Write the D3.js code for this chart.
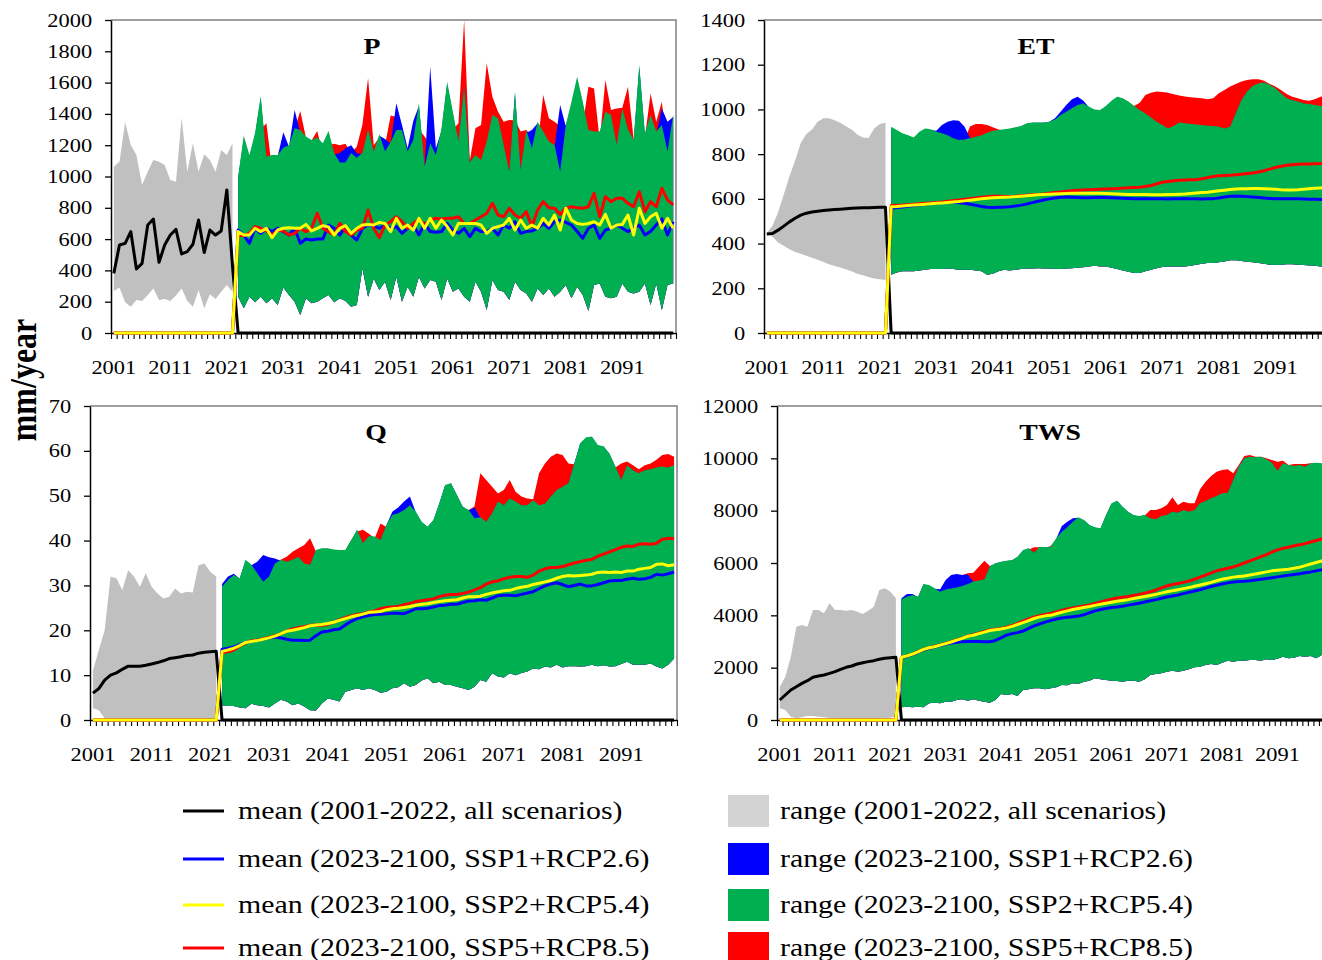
<!DOCTYPE html>
<html>
<head>
<meta charset="utf-8">
<script src="https://cdn.jsdelivr.net/npm/d3@7"></script>
<style>
  body { margin: 0; background: #ffffff; }
  svg { display: block; }
  text { font-family: "Liberation Serif", "Times New Roman", serif; fill: #000; }
</style>
</head>
<body>
<svg id="chart" width="1322" height="960"></svg>
<script>
// ---- Years -------------------------------------------------------------
const histYears = d3.range(2001, 2023);     // 2001-2022
const futureYears = d3.range(2023, 2101);   // 2023-2100
const labelYears = [2001, 2011, 2021, 2031, 2041, 2051, 2061, 2071, 2081, 2091];

// ---- P (precipitation) -------------------------------------------------
const pTicks = [0, 200, 400, 600, 800, 1000, 1200, 1400, 1600, 1800, 2000];
const pHistLow  = [268, 290, 196, 168, 211, 204, 243, 285, 211, 217, 204, 239, 285, 204, 168, 275, 158, 247, 217, 264, 307, 264];
const pHistHigh = [1063, 1095, 1346, 1201, 1137, 946, 1031, 1105, 1095, 1073, 978, 967, 1376, 1031, 1212, 1031, 1142, 1105, 1031, 1169, 1137, 1212];
const pHistMean = [381, 562, 573, 648, 409, 445, 690, 728, 452, 562, 626, 662, 505, 520, 567, 722, 514, 658, 626, 652, 914, 430];
const pSsp2Low = [232, 158, 232, 196, 232, 190, 222,
  179, 290, 243, 200, 115, 222, 190, 200, 222, 243,
  196, 222, 204, 168, 179, 413, 232, 349, 275, 328,
  211, 360, 200, 296, 232, 360, 285, 339, 328, 211,
  349, 264, 285, 232, 200, 328, 264, 147, 339, 275,
  264, 211, 328, 275, 253, 200, 285, 243, 285, 232,
  264, 307, 222, 296, 243, 141, 307, 317, 232, 222,
  232, 317, 264, 253, 264, 317, 179, 317, 147, 307,
  317];
const pSsp2High = [1000, 1260, 1137, 1280, 1514, 1127, 1137,
  1137, 1184, 1200, 1308, 1297, 1255, 1233, 1250, 1212, 1290,
  1150, 1090, 1090, 1150, 1120, 1150, 1300, 1160, 1270, 1160,
  1220, 1297, 1297, 1159, 1233, 1468, 1063, 1212, 1137, 1308,
  1606, 1414, 1223, 1574, 1090, 1137, 1105, 1223, 1393, 1372,
  1201, 1031, 1542, 1042, 1297, 1180, 1350, 1287, 1223, 1201,
  1031, 1329, 1478, 1638, 1478, 1297, 1287, 1287, 1414, 1393,
  1201, 1435, 1300, 1233, 1713, 1276, 1393, 1287, 1329, 1159,
  1393];
const pSsp1High = [990, 1240, 1120, 1260, 1500, 1110, 1120,
  1130, 1282, 1190, 1425, 1280, 1240, 1220, 1240, 1200, 1280,
  1140, 1150, 1180, 1200, 1150, 1140, 1290, 1150, 1260, 1240,
  1210, 1468, 1329, 1180, 1355, 1450, 1050, 1702, 1180, 1290,
  1590, 1400, 1210, 1560, 1080, 1120, 1090, 1210, 1380, 1360,
  1190, 1020, 1530, 1030, 1280, 1297, 1340, 1270, 1210, 1190,
  1457, 1320, 1460, 1620, 1460, 1280, 1270, 1270, 1400, 1380,
  1190, 1420, 1290, 1220, 1700, 1260, 1380, 1270, 1435, 1350,
  1380];
const pSsp5High = [980, 1200, 1100, 1200, 1300, 1340, 1050,
  1130, 1230, 1160, 1300, 1418, 1250, 1230, 1290, 1150, 1200,
  1210, 1200, 1210, 1150, 1190, 1330, 1630, 1200, 1250, 1200,
  1390, 1380, 1250, 1180, 1200, 1300, 1255, 1200, 1150, 1250,
  1400, 1300, 1340, 2000, 1100, 1308, 1329, 1723, 1510, 1414,
  1350, 1361, 1360, 1287, 1297, 1260, 1200, 1521, 1372, 1350,
  1320, 1329, 1300, 1300, 1330, 1574, 1563, 1230, 1617, 1425,
  1435, 1440, 1574, 1240, 1200, 1250, 1531, 1350, 1478, 1137,
  1393];
const pSsp1Mean = [658, 626, 573, 669, 637, 669, 648,
  669, 648, 626, 669, 573, 601, 594, 601, 601, 690,
  669, 626, 680, 626, 594, 669, 690, 686, 669, 690,
  669, 680, 637, 669, 690, 626, 700, 648, 644, 648,
  700, 658, 637, 669, 616, 669, 648, 648, 669, 626,
  690, 669, 711, 637, 648, 652, 669, 700, 669, 711,
  722, 707, 690, 648, 605, 669, 690, 605, 658, 669,
  690, 669, 648, 669, 690, 626, 648, 690, 730, 626,
  711];
const pSsp2Mean = [648, 626, 626, 669, 648, 669, 609,
  658, 669, 673, 669, 669, 694, 652, 669, 686, 677,
  626, 669, 686, 637, 669, 690, 694, 690, 707, 700,
  648, 733, 669, 690, 658, 733, 669, 733, 669, 722,
  680, 626, 700, 700, 700, 700, 690, 637, 669, 680,
  690, 733, 658, 722, 669, 690, 669, 733, 690, 754,
  658, 797, 722, 700, 694, 700, 711, 690, 758, 669,
  690, 694, 754, 626, 797, 700, 743, 765, 669, 733,
  669];
const pSsp5Mean = [626, 622, 637, 680, 669, 652, 626,
  658, 652, 626, 637, 669, 648, 669, 765, 669, 648,
  626, 700, 648, 626, 658, 669, 786, 669, 609, 690,
  711, 743, 711, 669, 700, 728, 690, 722, 733, 728,
  733, 733, 743, 700, 700, 722, 743, 765, 829, 754,
  743, 797, 754, 733, 775, 680, 786, 839, 801, 797,
  758, 797, 807, 801, 797, 807, 892, 743, 871, 839,
  861, 861, 829, 807, 903, 775, 839, 807, 924, 850,
  818];

// ---- ET (evapotranspiration) -------------------------------------------
const etTicks = [0, 200, 400, 600, 800, 1000, 1200, 1400];
const etHistLow  = [447, 430, 405, 390, 375, 362, 355, 345, 337, 328, 318, 308, 300, 293, 285, 276, 265, 258, 250, 244, 240, 237];
const etHistHigh = [447, 480, 540, 620, 700, 770, 850, 890, 910, 945, 960, 960, 952, 940, 925, 910, 888, 875, 872, 915, 935, 940];
const etHistMean = [443, 445, 460, 478, 497, 513, 527, 536, 541, 545, 548, 550, 552, 554, 556, 558, 559, 560, 560, 561, 562, 562];
const etSsp2Low = [261, 271, 276, 276, 276, 280, 283,
  286, 286, 286, 289, 286, 283, 283, 283, 280, 276,
  261, 265, 276, 283, 280, 283, 286, 289, 289, 290,
  289, 289, 287, 286, 289, 290, 292, 294, 298, 301,
  298, 298, 292, 286, 280, 274, 268, 268, 276, 283,
  290, 295, 298, 298, 298, 298, 301, 305, 310, 313,
  313, 316, 320, 325, 325, 322, 319, 316, 313, 310,
  305, 304, 305, 308, 308, 305, 304, 302, 301, 298,
  298];
const etSsp2High = [923, 908, 893, 885, 875, 900, 915,
  911, 900, 893, 885, 871, 863, 866, 871, 878, 885,
  896, 905, 908, 911, 915, 920, 926, 938, 942, 941,
  942, 945, 955, 975, 990, 1005, 1020, 1027, 1012, 1000,
  997, 1015, 1039, 1057, 1050, 1035, 1015, 997, 982, 964,
  945, 930, 915, 926, 941, 938, 935, 933, 930, 927,
  926, 923, 915, 923, 982, 1042, 1080, 1105, 1117, 1120,
  1110, 1095, 1072, 1050, 1042, 1035, 1027, 1024, 1020, 1015,
  1012];
const etSsp1High = [915, 905, 890, 882, 872, 895, 910,
  908, 905, 930, 945, 952, 949, 923, 870, 875, 880,
  890, 900, 905, 908, 912, 918, 924, 935, 940, 940,
  940, 945, 960, 990, 1020, 1045, 1057, 1040, 1010, 998,
  995, 1012, 1035, 1055, 1048, 1032, 1012, 995, 980, 960,
  942, 928, 912, 924, 938, 935, 932, 930, 928, 925,
  924, 920, 912, 920, 980, 1040, 1078, 1100, 1114, 1118,
  1108, 1092, 1070, 1048, 1040, 1032, 1025, 1022, 1018, 1012,
  1010];
const etSsp5High = [900, 890, 880, 875, 870, 880, 900,
  900, 890, 880, 870, 865, 860, 865, 925, 935, 935,
  930, 920, 910, 905, 910, 915, 920, 930, 935, 935,
  940, 940, 950, 965, 980, 995, 1005, 1015, 1005, 995,
  995, 1010, 1035, 1050, 1045, 1030, 1015, 1030, 1065, 1075,
  1080, 1078, 1075, 1068, 1062, 1058, 1055, 1052, 1050, 1045,
  1050, 1072, 1087, 1102, 1114, 1125, 1132, 1135, 1135, 1128,
  1114, 1102, 1087, 1069, 1057, 1050, 1042, 1039, 1045, 1057,
  1060];
const etSsp1Mean = [558, 561, 564, 567, 570, 573, 576,
  579, 582, 584, 585, 585, 583, 580, 576, 571, 566,
  562, 561, 562, 563, 565, 568, 572, 577, 583, 589,
  595, 600, 604, 607, 608, 607, 606, 605, 605, 606,
  606, 606, 605, 604, 603, 602, 601, 601, 600, 600,
  600, 600, 599, 600, 601, 602, 601, 600, 599, 600,
  601, 604, 608, 612, 613, 612, 610, 608, 606, 604,
  602, 601, 601, 600, 600, 600, 599, 598, 598, 597,
  598];
const etSsp2Mean = [565, 566, 568, 570, 572, 574, 576,
  578, 580, 582, 584, 586, 588, 591, 594, 597, 600,
  603, 605, 606, 607, 608, 610, 612, 614, 616, 618,
  620, 621, 622, 623, 624, 625, 625, 625, 625, 625,
  625, 624, 623, 622, 621, 620, 620, 619, 619, 618,
  618, 618, 619, 620, 621, 622, 624, 626, 628, 630,
  633, 636, 639, 642, 644, 645, 645, 646, 646, 645,
  644, 643, 641, 640, 640, 641, 643, 645, 647, 649,
  651];
const etSsp5Mean = [570, 571, 572, 574, 576, 578, 580,
  582, 584, 586, 589, 592, 595, 598, 601, 604, 607,
  610, 612, 612, 611, 611, 612, 614, 616, 618, 620,
  622, 625, 628, 631, 634, 636, 638, 640, 641, 642,
  643, 644, 645, 646, 648, 650, 651, 652, 655, 660,
  667, 674, 678, 681, 683, 684, 685, 686, 690, 695,
  700, 703, 705, 706, 708, 710, 713, 716, 720, 726,
  733, 740, 746, 750, 753, 755, 756, 756, 757, 758,
  760];

// ---- Q (runoff) --------------------------------------------------------
const qTicks = [0, 10, 20, 30, 40, 50, 60, 70];
const qHistLow  = [2.6, 2.2, 0.4, 0, 0, 0.2, 0, 0, 0, 0, 0, 0, 0, 0, 0, 0, 0, 0, 0, 0, 0, 0];
const qHistHigh = [11, 15.6, 20, 32, 31.6, 29, 33.4, 32, 29.7, 32.7, 29.7, 28.2, 27.1, 27.5, 29.3, 28.2, 28.6, 28.4, 34.5, 34.9, 33, 32];
const qHistMean = [6, 7, 8.9, 10, 10.5, 11.3, 12, 12, 12, 12.2, 12.5, 12.8, 13.2, 13.7, 13.9, 14.1, 14.4, 14.5, 14.9, 15.1, 15.2, 15.3];
const qSsp2Low = [3.3, 3.1, 3.1, 2.8, 2.6, 3.6, 3.3,
  3.1, 2.8, 3.7, 4.5, 4.1, 3.3, 3.7, 3, 2.2, 2.1,
  3.7, 4.8, 4.5, 4.1, 6.3, 6.7, 7.1, 6.7, 7.1, 6.7,
  6.1, 6.3, 7.1, 7.3, 8.2, 7.4, 7.8, 8.8, 9.3, 8.2,
  8.5, 7.8, 7.8, 7.4, 7.1, 6.7, 7.4, 8.9, 8.5, 10.4,
  9.7, 9.5, 10.4, 10, 10.5, 10.8, 11.5, 11.3, 11.9, 11.7,
  12.3, 11.7, 12, 12, 11.9, 12, 12.3, 12, 12.2, 11.9,
  12, 12.5, 13, 12.3, 12.3, 12.3, 12.6, 11.9, 11.5, 12.3,
  13.7];
const qSsp2High = [29.7, 31.2, 32.3, 31.6, 35.7, 34.6, 32.7,
  30.8, 32, 34.9, 35.7, 35.3, 35.7, 36.4, 34.9, 34.6, 37.9,
  38.3, 38.3, 38, 37.9, 37.9, 40.1, 42.4, 39.4, 41, 40.9,
  40.1, 43.5, 45.7, 46.1, 46.8, 47.9, 46.4, 44.2, 43.1, 44.6,
  48.3, 52.4, 52.8, 50.2, 47.6, 46.8, 45, 45.2, 44.2, 46.1,
  48.7, 47.9, 49.4, 48.7, 47.9, 47.9, 49, 47.9, 48.2, 49.8,
  51.3, 52, 52.8, 57.2, 61.7, 63, 63.2, 61.3, 61, 59.4,
  56.5, 53.5, 56.8, 55.7, 55, 55.7, 55.9, 56.3, 56.5, 56.3,
  56.8];
const qSsp1High = [30.3, 32, 32.6, 31.5, 35.5, 34.5, 35.3,
  36.8, 36.3, 36, 35.5, 35.2, 35.6, 36.2, 34.8, 34.5, 37.8,
  38.2, 38.2, 37.9, 37.8, 37.8, 40, 42.3, 39.3, 40.9, 40.8,
  40, 43.4, 46.4, 47.4, 48.7, 49.8, 46.3, 44.1, 43, 44.5,
  48.2, 52.3, 52.7, 50.1, 47.5, 46.7, 47.4, 45.1, 44.1, 46,
  48.6, 47.8, 49.3, 48.6, 47.8, 47.8, 48.9, 47.8, 48.1, 49.7,
  51.2, 51.9, 52.7, 57.1, 61.6, 62.9, 63.1, 61.2, 60.9, 59.3,
  56.4, 53.4, 56.7, 55.6, 54.9, 55.6, 55.8, 56.2, 56.4, 56.2,
  56.7];
const qSsp5High = [29, 30.5, 31.5, 31, 35, 34, 32,
  30.5, 33.4, 35.3, 35.7, 36.4, 37.5, 38.3, 39, 40.5, 37.5,
  38, 38, 37.8, 37.5, 37.5, 40, 42, 42.4, 41.5, 40.5,
  43.8, 43, 45, 45.5, 46, 47, 46, 44, 43, 44.2,
  48, 52, 52.5, 50, 47.2, 46.8, 47.6, 55, 53.5, 52,
  50.5, 51.3, 53.5, 50.9, 49.8, 49.4, 49.2, 55, 57.2, 58.7,
  59.4, 59.1, 57.2, 57, 61, 62.5, 62.8, 61, 60.5, 59,
  56.3, 57.2, 57.6, 56.8, 55.9, 56.8, 57.2, 58, 59.1, 59.3,
  58.7];
const qSsp1Mean = [15.8, 16, 16.3, 16.8, 17.3, 17.5, 17.8,
  18, 18.3, 18.5, 18.3, 18, 17.8, 17.8, 17.7, 17.8, 18.8,
  19.6, 19.8, 20.1, 20.3, 21.2, 22, 22.6, 23, 23.3, 23.5,
  23.6, 23.7, 23.8, 23.8, 23.7, 24.2, 24.8, 24.8, 24.9, 25.2,
  25.5, 25.6, 25.8, 25.8, 26.2, 26.5, 26.6, 26.8, 26.7, 27.2,
  27.7, 27.8, 27.8, 27.7, 28, 28.3, 28.6, 29.3, 29.9, 30.3,
  30.6, 30.2, 29.7, 30, 30.3, 29.9, 29.9, 30.2, 30.6, 31,
  31.1, 31.1, 31.4, 31.6, 31.4, 31.5, 31.8, 32.5, 32.3, 32.6,
  33];
const qSsp2Mean = [15.3, 15.6, 16, 16.6, 17.3, 17.5, 17.7,
  18, 18.3, 18.7, 19.2, 19.8, 20, 20.3, 20.6, 21, 21.2,
  21.3, 21.5, 21.8, 22.2, 22.6, 23, 23.3, 23.6, 24, 24.1,
  24.2, 24.6, 24.8, 24.9, 25.1, 25.3, 25.6, 25.8, 25.9, 26.2,
  26.4, 26.6, 26.7, 26.8, 27.2, 27.5, 27.5, 27.6, 28, 28.3,
  28.6, 28.8, 28.9, 29.3, 29.6, 29.8, 30.2, 30.5, 30.8, 31.1,
  31.6, 32, 32.2, 32.1, 32.2, 32.3, 32.5, 32.9, 33, 32.9,
  33, 32.9, 33.2, 33.2, 33.6, 33.8, 34, 34.7, 34.8, 34.4,
  34.6];
const qSsp5Mean = [15, 15.2, 15.6, 16.5, 17.2, 17.6, 17.8,
  18.1, 18.4, 18.8, 19.2, 19.8, 20.3, 20.6, 20.8, 21.1, 21.2,
  21.1, 21.3, 21.8, 22.3, 22.8, 23.2, 23.5, 23.7, 24.1, 24.3,
  24.8, 25.1, 25.2, 25.3, 25.7, 26, 26.4, 26.6, 26.8, 27,
  27.5, 27.8, 28, 28, 28.2, 28.5, 29, 29.5, 30.3, 30.8,
  31, 31.5, 31.8, 32, 32, 31.8, 32.3, 33.2, 33.7, 34,
  34, 34.2, 34.6, 35, 35.3, 35.6, 35.8, 36.5, 37, 37.5,
  38, 38.5, 38.8, 38.7, 39.2, 39.3, 39.2, 39.4, 40.3, 40.5,
  40.4];

// ---- TWS (terrestrial water storage) -----------------------------------
const twsTicks = [0, 2000, 4000, 6000, 8000, 10000, 12000];
const twsHistLow  = [446, 382, 127, 64, 102, 153, 153, 127, 102, 76, 64, 51, 51, 51, 51, 51, 51, 51, 64, 76, 89, 127];
const twsHistHigh = [1274, 1656, 2420, 3567, 3631, 3567, 4204, 4204, 4077, 4459, 4204, 4204, 4179, 4204, 4140, 4051, 4179, 4332, 4969, 5032, 4905, 4650];
const twsHistMean = [764, 955, 1147, 1274, 1401, 1503, 1631, 1682, 1720, 1784, 1847, 1936, 2013, 2064, 2140, 2191, 2230, 2268, 2319, 2357, 2382, 2400];
const twsSsp2Low = [484, 510, 484, 510, 484, 637, 662,
  637, 700, 700, 764, 790, 739, 790, 739, 700, 662,
  764, 994, 955, 994, 917, 1147, 1172, 1210, 1210, 1172,
  1210, 1249, 1338, 1325, 1401, 1376, 1465, 1503, 1593, 1554,
  1529, 1503, 1490, 1465, 1503, 1503, 1465, 1554, 1720, 1758,
  1784, 1847, 1886, 1847, 1886, 1936, 2013, 2038, 2102, 2140,
  2102, 2191, 2268, 2230, 2268, 2268, 2293, 2293, 2268, 2319,
  2293, 2344, 2421, 2357, 2382, 2446, 2421, 2446, 2357, 2484,
  2484];
const twsSsp2High = [4610, 4712, 4776, 4712, 5196, 5158, 5031,
  4903, 4990, 5030, 5060, 5120, 5200, 5290, 5330, 5380, 5880,
  5986, 6050, 6088, 6114, 6241, 6496, 6560, 6394, 6623, 6598,
  6623, 6942, 7197, 7362, 7579, 7744, 7642, 7451, 7362, 7324,
  7834, 8279, 8381, 8152, 7961, 7834, 7795, 7834, 7706, 7668,
  7795, 7834, 7961, 7923, 8024, 7961, 8024, 8279, 8368, 8470,
  8560, 8662, 8687, 9171, 9681, 9999, 10063, 10037, 10063, 9961,
  9834, 9528, 9808, 9745, 9706, 9745, 9681, 9808, 9834, 9808,
  9783];
const twsSsp1High = [4650, 4814, 4814, 4700, 5180, 5140, 5020,
  5000, 5349, 5540, 5579, 5540, 5560, 5280, 5320, 5370, 5870,
  5980, 6040, 6080, 6100, 6230, 6480, 6550, 6380, 6610, 6590,
  6610, 6930, 7413, 7579, 7706, 7730, 7630, 7440, 7350, 7310,
  7820, 8260, 8370, 8140, 7950, 7820, 7780, 7820, 7690, 7650,
  7780, 7820, 7950, 7910, 8010, 7950, 8010, 8260, 8350, 8460,
  8550, 8650, 8670, 9160, 9670, 9990, 10050, 10020, 10050, 9950,
  9820, 9510, 9790, 9730, 9690, 9730, 9670, 9790, 9820, 9790,
  9770];
const twsSsp5High = [4550, 4650, 4700, 4650, 5150, 5100, 5000,
  4880, 4950, 5285, 5477, 5540, 5604, 5630, 5859, 6088, 5884,
  5950, 6000, 6050, 6080, 6200, 6450, 6520, 6598, 6600, 6580,
  6650, 6900, 7150, 7300, 7500, 7700, 7600, 7400, 7300, 7300,
  7800, 8250, 8350, 8100, 7900, 7800, 7780, 7820, 8024, 8024,
  8088, 8215, 8509, 8215, 8343, 8279, 8279, 8814, 9108, 9324,
  9490, 9553, 9579, 9426, 9745, 10088, 10127, 10063, 10063, 10000,
  9936, 9872, 9910, 9745, 9783, 9783, 9783, 9808, 9808, 9783,
  9783];
const twsSsp1Mean = [2380, 2440, 2510, 2590, 2680, 2740, 2790,
  2850, 2900, 2940, 2970, 2990, 3000, 3000, 3000, 2990, 2990,
  3040, 3140, 3240, 3300, 3340, 3400, 3500, 3600, 3670, 3740,
  3800, 3860, 3900, 3930, 3950, 3970, 4020, 4100, 4170, 4220,
  4260, 4300, 4320, 4350, 4390, 4420, 4460, 4510, 4560, 4600,
  4650, 4700, 4740, 4780, 4830, 4880, 4930, 4980, 5040, 5100,
  5150, 5200, 5240, 5270, 5290, 5300, 5320, 5350, 5380, 5410,
  5440, 5470, 5500, 5530, 5560, 5590, 5630, 5660, 5700, 5740,
  5790];
const twsSsp2Mean = [2400, 2450, 2520, 2600, 2700, 2760, 2800,
  2860, 2920, 2980, 3050, 3120, 3200, 3240, 3300, 3360, 3420,
  3450, 3480, 3520, 3580, 3650, 3720, 3800, 3880, 3940, 3980,
  4000, 4060, 4120, 4170, 4220, 4260, 4300, 4340, 4380, 4420,
  4460, 4500, 4540, 4570, 4600, 4640, 4680, 4720, 4760, 4800,
  4850, 4900, 4940, 4980, 5020, 5060, 5110, 5160, 5210, 5260,
  5320, 5380, 5420, 5460, 5480, 5500, 5540, 5580, 5620, 5660,
  5700, 5720, 5740, 5760, 5800, 5840, 5900, 5960, 6020, 6080,
  6130];
const twsSsp5Mean = [2400, 2450, 2520, 2610, 2700, 2760, 2810,
  2870, 2930, 2990, 3060, 3130, 3210, 3260, 3320, 3380, 3440,
  3470, 3500, 3550, 3610, 3690, 3780, 3860, 3930, 3990, 4030,
  4070, 4130, 4190, 4240, 4280, 4320, 4360, 4400, 4450, 4510,
  4570, 4620, 4660, 4690, 4720, 4760, 4800, 4850, 4900, 4960,
  5050, 5120, 5180, 5220, 5260, 5310, 5380, 5460, 5540, 5620,
  5700, 5750, 5800, 5850, 5920, 6000, 6080, 6160, 6240, 6320,
  6420, 6500, 6560, 6600, 6660, 6700, 6740, 6800, 6860, 6920,
  6990];

// ---- Legend -------------------------------------------------------------
const lineLegend = [
  "mean (2001-2022, all scenarios)",
  "mean (2023-2100, SSP1+RCP2.6)",
  "mean (2023-2100, SSP2+RCP5.4)",
  "mean (2023-2100, SSP5+RCP8.5)"
];
const rangeLegend = [
  "range (2001-2022, all scenarios)",
  "range (2023-2100, SSP1+RCP2.6)",
  "range (2023-2100, SSP2+RCP5.4)",
  "range (2023-2100, SSP5+RCP8.5)"
];

// ---- Styling ------------------------------------------------------------
const COL = {
  histFill: "#c0c0c0", histKey: "#d3d3d3",
  ssp1: "#0000ff", ssp2Fill: "#00b050", ssp2Line: "#ffff00", ssp5: "#ff0000",
  hist: "#000000", frame: "#808080"
};
const lineColors = [COL.hist, COL.ssp1, COL.ssp2Line, COL.ssp5];
const rangeColors = [COL.histKey, COL.ssp1, COL.ssp2Fill, COL.ssp5];
const SX = 1.18;          // horizontal text stretch
const TICK_FONT = 19;
const SERIF = "Liberation Serif, Times New Roman, serif";

const panels = [
  { title: "P", titleX: 372, ticks: pTicks, box: { l: 111, r: 676, t: 20, b: 333 },
    histLow: pHistLow, histHigh: pHistHigh, histMean: pHistMean,
    low: pSsp2Low, hi1: pSsp1High, hi2: pSsp2High, hi5: pSsp5High,
    m1: pSsp1Mean, m2: pSsp2Mean, m5: pSsp5Mean },
  { title: "ET", titleX: 1036, ticks: etTicks, box: { l: 764, r: 1329, t: 20, b: 333 },
    histLow: etHistLow, histHigh: etHistHigh, histMean: etHistMean,
    low: etSsp2Low, hi1: etSsp1High, hi2: etSsp2High, hi5: etSsp5High,
    m1: etSsp1Mean, m2: etSsp2Mean, m5: etSsp5Mean },
  { title: "Q", titleX: 376, ticks: qTicks, box: { l: 90, r: 677, t: 406, b: 720 },
    histLow: qHistLow, histHigh: qHistHigh, histMean: qHistMean,
    low: qSsp2Low, hi1: qSsp1High, hi2: qSsp2High, hi5: qSsp5High,
    m1: qSsp1Mean, m2: qSsp2Mean, m5: qSsp5Mean },
  { title: "TWS", titleX: 1050, ticks: twsTicks, box: { l: 777, r: 1330, t: 406, b: 720 },
    histLow: twsHistLow, histHigh: twsHistHigh, histMean: twsHistMean,
    low: twsSsp2Low, hi1: twsSsp1High, hi2: twsSsp2High, hi5: twsSsp5High,
    m1: twsSsp1Mean, m2: twsSsp2Mean, m5: twsSsp5Mean }
];

const svg = d3.select("#chart");

function stretchedText(parent, x, y, str, size, anchor, weight) {
  return parent.append("text")
    .attr("transform", `translate(${x},${y}) scale(${SX},1)`)
    .attr("text-anchor", anchor)
    .attr("font-family", SERIF)
    .attr("font-size", size)
    .attr("font-weight", weight || "normal")
    .text(str);
}

panels.forEach(p => {
  ["histLow", "histHigh", "histMean"].forEach(k => {
    if (p[k].length !== histYears.length) throw new Error(p.title + " " + k + " length " + p[k].length);
  });
  ["low", "hi1", "hi2", "hi5", "m1", "m2", "m5"].forEach(k => {
    if (p[k].length !== futureYears.length) throw new Error(p.title + " " + k + " length " + p[k].length);
  });

  const { l, r, t, b } = p.box;
  const x = d3.scaleLinear().domain([2000.5, 2100.5]).range([l, r]);
  const y = d3.scaleLinear().domain([0, d3.max(p.ticks)]).range([b, t]);
  const g = svg.append("g");

  // frame (top / right edges)
  g.append("path")
    .attr("d", `M${l},${t}H${r}V${b}`)
    .attr("fill", "none").attr("stroke", COL.frame).attr("stroke-width", 1.5);

  // y axis
  const yAxis = g.append("g").attr("transform", `translate(${l},0)`)
    .call(d3.axisLeft(y).tickValues(p.ticks).tickFormat(d3.format("d"))
      .tickSize(6).tickSizeOuter(0).tickPadding(10));
  yAxis.select(".domain").attr("stroke", "#000").attr("stroke-width", 1.5);
  yAxis.selectAll(".tick line").attr("stroke", "#000").attr("stroke-width", 1.3);
  yAxis.selectAll(".tick text")
    .attr("font-size", TICK_FONT)
    .attr("font-family", SERIF)
    .attr("fill", "#000")
    .attr("transform", `scale(${SX},1)`);

  // x axis: a tick at every year boundary, labels every ten years
  const xAxis = g.append("g").attr("transform", `translate(0,${b})`)
    .call(d3.axisBottom(x).tickValues(d3.range(2000.5, 2101, 1)).tickSize(6).tickSizeOuter(0).tickFormat(""));
  xAxis.select(".domain").attr("stroke", "#000").attr("stroke-width", 1.5);
  xAxis.selectAll(".tick line").attr("stroke", "#000").attr("stroke-width", 1.1);
  labelYears.forEach(yr => stretchedText(g, x(yr), b + 41, String(yr), TICK_FONT, "middle"));

  // rows
  const hist = histYears.map((yr, i) => ({ year: yr, lo: p.histLow[i], hi: p.histHigh[i], mean: p.histMean[i] }));
  const fut = futureYears.map((yr, i) => ({
    year: yr, lo: p.low[i], hi1: p.hi1[i], hi2: p.hi2[i], hi5: p.hi5[i],
    m1: p.m1[i], m2: p.m2[i], m5: p.m5[i]
  }));

  const band = key => d3.area().x(d => x(d.year)).y0(d => y(d.lo)).y1(d => y(d[key]));

  // scenario ranges: SSP5 underneath, SSP1 over it, SSP2 on top
  g.append("path").datum(fut).attr("d", band("hi5")).attr("fill", COL.ssp5);
  g.append("path").datum(fut).attr("d", band("hi1")).attr("fill", COL.ssp1);
  g.append("path").datum(fut).attr("d", band("hi2")).attr("fill", COL.ssp2Fill);
  g.append("path").datum(hist).attr("d", band("hi")).attr("fill", COL.histFill);

  const line = d3.line().x(d => x(d.year)).y(d => y(d.v));
  const firstYear = histYears[0], lastHist = histYears[histYears.length - 1];
  const firstFut = futureYears[0], lastFut = futureYears[futureYears.length - 1];

  // historical mean, carried at zero over the scenario period
  const histLine = hist.map(d => ({ year: d.year, v: d.mean }))
    .concat([{ year: firstFut, v: 0 }, { year: lastFut, v: 0 }]);
  // scenario means, carried at zero over the historical period
  const scen = key => [{ year: firstYear, v: 0 }, { year: lastHist, v: 0 }]
    .concat(fut.map(d => ({ year: d.year, v: d[key] })));

  const drawLine = (data, color) => g.append("path").datum(data).attr("d", line)
    .attr("fill", "none").attr("stroke", color).attr("stroke-width", 3)
    .attr("stroke-linejoin", "round");

  drawLine(histLine, COL.hist);
  drawLine(scen("m1"), COL.ssp1);
  drawLine(scen("m5"), COL.ssp5);
  drawLine(scen("m2"), COL.ssp2Line);

  stretchedText(g, p.titleX, t + 34, p.title, 23.5, "middle", "bold");
});

// shared y label
svg.append("text")
  .attr("transform", `translate(36,380) scale(${SX},1) rotate(-90)`)
  .attr("text-anchor", "middle")
  .attr("font-family", SERIF)
  .attr("font-size", 32)
  .attr("font-weight", "bold")
  .text("mm/year");

// legend
const legendRows = [811, 859, 905, 948];
const lg = svg.append("g");
lineLegend.forEach((txt, i) => {
  const cy = legendRows[i];
  lg.append("line").attr("x1", 183).attr("x2", 224).attr("y1", cy).attr("y2", cy)
    .attr("stroke", lineColors[i]).attr("stroke-width", 3);
  stretchedText(lg, 238, cy + 8, txt, 25.3, "start");
});
rangeLegend.forEach((txt, i) => {
  const cy = legendRows[i];
  lg.append("rect").attr("x", 728).attr("y", cy - 16).attr("width", 41).attr("height", 32)
    .attr("fill", rangeColors[i]);
  stretchedText(lg, 780, cy + 8, txt, 25.3, "start");
});
</script>
</body>
</html>
